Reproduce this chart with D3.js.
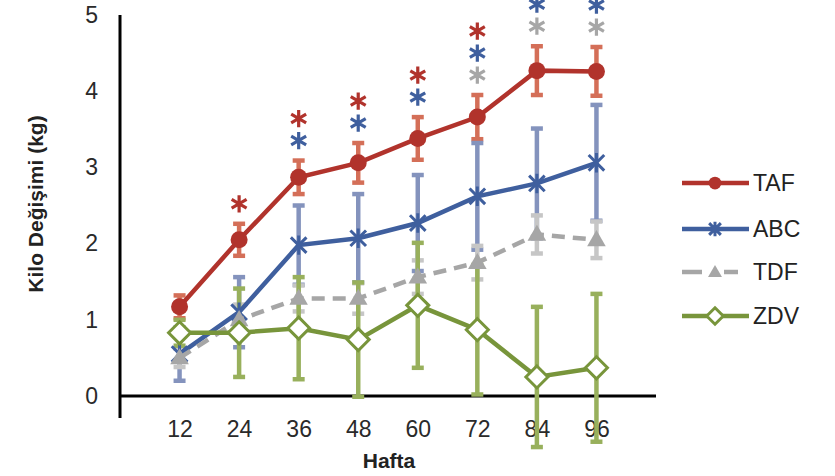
<!DOCTYPE html>
<html>
<head>
<meta charset="utf-8">
<script src="https://cdn.jsdelivr.net/npm/d3@7"></script>
<style>
  html, body { margin: 0; padding: 0; background: #fff; }
  svg { display: block; font-family: "Liberation Sans", Arial, sans-serif; }
</style>
</head>
<body>
<svg id="chart" width="835" height="476"></svg>
<script>
// Weeks on the x axis
const weeks = ["12", "24", "36", "48", "60", "72", "84", "96"];
const yTicks = [0, 1, 2, 3, 4, 5];

// Mean weight change (kg) and error per group
const tafMean = [1.17, 2.05, 2.87, 3.06, 3.38, 3.66, 4.27, 4.26];
const tafErr  = [0.15, 0.21, 0.22, 0.26, 0.28, 0.29, 0.32, 0.32];
const abcMean = [0.55, 1.10, 1.98, 2.07, 2.27, 2.62, 2.79, 3.06];
const abcErr  = [0.35, 0.46, 0.52, 0.58, 0.63, 0.70, 0.72, 0.76];
const tdfMean = [0.50, 1.00, 1.28, 1.28, 1.56, 1.75, 2.12, 2.05];
const tdfErr  = [0.12, 0.20, 0.17, 0.20, 0.22, 0.22, 0.25, 0.24];
const zdvMean = [0.83, 0.83, 0.89, 0.74, 1.19, 0.87, 0.25, 0.37];
const zdvErr  = [0.17, 0.58, 0.67, 0.75, 0.82, 0.85, 0.92, 0.97];

// Weeks with a significance asterisk for each group
const sigTAF = ["24", "36", "48", "60", "72"];
const sigABC = ["36", "48", "60", "72", "84", "96"];
const sigTDF = ["72", "84", "96"];

const seriesNames = ["TAF", "ABC", "TDF", "ZDV"];

// ---- styling per series ----
const style = {
  TAF: { line: "#b1332c", err: "#d46f58", marker: "circle" },
  ABC: { line: "#3f5f9e", err: "#8493bd", marker: "star" },
  TDF: { line: "#a6a6a6", err: "#c6c6c6", marker: "triangle", dash: "13,8" },
  ZDV: { line: "#78953b", err: "#98b05c", marker: "diamond" }
};

const series = [
  { name: "TAF", mean: tafMean, err: tafErr, sig: sigTAF },
  { name: "ABC", mean: abcMean, err: abcErr, sig: sigABC },
  { name: "TDF", mean: tdfMean, err: tdfErr, sig: sigTDF },
  { name: "ZDV", mean: zdvMean, err: zdvErr, sig: [] }
];

const svg = d3.select("#chart");
const x = d3.scalePoint().domain(weeks).range([120, 656]).padding(1);
const y = d3.scaleLinear().domain([0, 5]).range([396, 15]);

// Star marker: an X crossed by a vertical stroke
const starSymbol = {
  draw(ctx, size) {
    const r = Math.sqrt(size) / 2;
    const d = r * 0.8;
    ctx.moveTo(-d, -d); ctx.lineTo(d, d);
    ctx.moveTo(-d, d); ctx.lineTo(d, -d);
    ctx.moveTo(0, -r); ctx.lineTo(0, r);
  }
};

function drawMarker(g, kind, color, scale) {
  const s = scale || 1;
  if (kind === "circle") {
    g.append("circle").attr("r", 8.5 * s).attr("fill", color);
  } else if (kind === "star") {
    g.append("path").attr("d", d3.symbol(starSymbol, 380 * s * s)())
      .attr("fill", "none").attr("stroke", color).attr("stroke-width", 3);
  } else if (kind === "triangle") {
    g.append("path").attr("d", d3.symbol(d3.symbolTriangle, 150 * s * s)())
      .attr("transform", "translate(0,1)")
      .attr("fill", color);
  } else if (kind === "diamond") {
    const h = 11 * s;
    g.append("path").attr("d", `M0,${-h}L${h},0L0,${h}L${-h},0Z`)
      .attr("fill", "#fff").attr("stroke", color).attr("stroke-width", 3);
  }
}

// ---- axes ----
const yAxis = d3.axisLeft(y).tickValues(yTicks).tickFormat(d3.format("d"))
  .tickSize(0).tickPadding(22);
svg.append("g").attr("transform", "translate(120,0)").call(yAxis)
  .call(g => g.select(".domain").remove())
  .call(g => g.selectAll("text").attr("font-size", 23).attr("fill", "#2a2a2a")
    .attr("font-family", "Liberation Sans, Arial, sans-serif"));

const xAxis = d3.axisBottom(x).tickSize(0).tickPadding(25);
svg.append("g").attr("transform", "translate(0,396)").call(xAxis)
  .call(g => g.select(".domain").remove())
  .call(g => g.selectAll("text").attr("font-size", 23).attr("fill", "#2a2a2a")
    .attr("font-family", "Liberation Sans, Arial, sans-serif"));

svg.append("line").attr("x1", 120).attr("x2", 120).attr("y1", y(5)).attr("y2", 418)
  .attr("stroke", "#000").attr("stroke-width", 3);
svg.append("line").attr("x1", 120).attr("x2", 656).attr("y1", y(0)).attr("y2", y(0))
  .attr("stroke", "#000").attr("stroke-width", 3);

// Axis titles
svg.append("text").attr("x", 389).attr("y", 468).attr("text-anchor", "middle")
  .attr("font-size", 21).attr("font-weight", "bold").attr("fill", "#222").text("Hafta");
svg.append("text").attr("transform", "translate(43,204) rotate(-90)")
  .attr("text-anchor", "middle").attr("font-size", 21).attr("font-weight", "bold")
  .attr("fill", "#222").text("Kilo Değişimi (kg)");

// ---- error bars ----
const capW = 6;
series.forEach(s => {
  const c = style[s.name].err;
  const g = svg.append("g").attr("class", "err-" + s.name);
  weeks.forEach((w, i) => {
    const lo = y(s.mean[i] - s.err[i]), hi = y(s.mean[i] + s.err[i]);
    const cx = x(w);
    g.append("line").attr("x1", cx).attr("x2", cx).attr("y1", lo).attr("y2", hi)
      .attr("stroke", c).attr("stroke-width", 4.5);
    [lo, hi].forEach(v => g.append("line")
      .attr("x1", cx - capW).attr("x2", cx + capW).attr("y1", v).attr("y2", v)
      .attr("stroke", c).attr("stroke-width", 4.5));
  });
});

// ---- lines and markers ----
const line = d3.line().x(d => x(d.w)).y(d => y(d.v));
series.forEach(s => {
  const st = style[s.name];
  const pts = weeks.map((w, i) => ({ w, v: s.mean[i] }));
  svg.append("path").datum(pts).attr("d", line)
    .attr("fill", "none").attr("stroke", st.line).attr("stroke-width", 4.5)
    .attr("stroke-dasharray", st.dash || null);
  pts.forEach(p => {
    const g = svg.append("g").attr("transform", `translate(${x(p.w)},${y(p.v)})`);
    drawMarker(g, st.marker, st.line, 1);
  });
});

// ---- significance asterisks stacked above the TAF error bars ----
const stackOrder = ["TDF", "ABC", "TAF"];
const asterisk = d3.symbol(d3.symbolAsterisk, 210)();
weeks.forEach((w, i) => {
  const top = y(tafMean[i] + tafErr[i]);
  let k = 0;
  stackOrder.forEach(name => {
    const s = series.find(d => d.name === name);
    if (s.sig.includes(w)) {
      svg.append("path").attr("d", asterisk)
        .attr("transform", `translate(${x(w)},${top - 20 - 22 * k})`)
        .attr("fill", "none").attr("stroke", style[name].line).attr("stroke-width", 3.2);
      k++;
    }
  });
});

// ---- legend ----
const legendY = [183, 229, 272, 316];
seriesNames.forEach((name, i) => {
  const st = style[name];
  const g = svg.append("g").attr("transform", `translate(0,${legendY[i]})`);
  g.append("line").attr("x1", 682).attr("x2", 749).attr("y1", 0).attr("y2", 0)
    .attr("stroke", st.line).attr("stroke-width", 4.5)
    .attr("stroke-dasharray", st.dash ? "20,22,14,100" : null);
  const m = g.append("g").attr("transform", "translate(715,0)");
  drawMarker(m, st.marker, st.line, 0.75);
  g.append("text").attr("x", 753).attr("y", 0).attr("dy", "0.36em")
    .attr("font-size", 23).attr("fill", "#222").text(name);
});
</script>
</body>
</html>
